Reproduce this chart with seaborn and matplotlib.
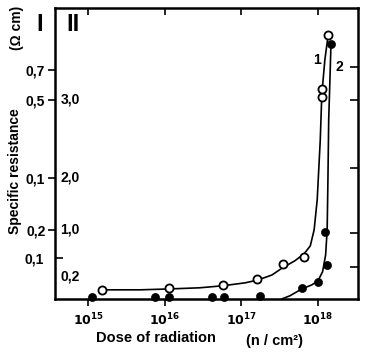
#!/usr/bin/env python3
"""Specific resistance vs. dose of radiation (two samples, two scales)."""

import matplotlib

matplotlib.use("Agg")
import matplotlib.pyplot as plt
import numpy as np
import pandas as pd
import seaborn as sns

# y values are in relative plot units (0 = bottom, 100 = top), the axis is not linear
# measured points, log10 of dose
open_logx = [15.18, 16.06, 16.76, 17.20, 17.54, 17.82, 18.05, 18.05, 18.13]
open_y = [3.1, 3.8, 4.8, 6.9, 12.0, 14.4, 69.4, 72.2, 90.7]
filled_logx = [15.05, 15.87, 16.06, 16.62, 16.77, 17.24, 17.79, 18.00, 18.12, 18.09, 18.17]
filled_y = [0.5, 0.7, 0.7, 0.7, 0.7, 1.0, 3.8, 5.8, 11.7, 23.0, 87.6]

# drawn curves
curve1_logx = [15.18, 15.68, 16.06, 16.46, 16.76, 17.05, 17.22, 17.40, 17.54, 17.70,
               17.82, 17.90, 17.95, 17.99, 18.03, 18.05, 18.09, 18.13]
curve1_y = [3.1, 3.1, 3.4, 3.8, 4.5, 5.5, 6.5, 8.2, 10.7, 13.1,
            15.5, 18.2, 23.7, 34.0, 54.6, 70.1, 82.1, 90.0]
curve2_logx = [17.53, 17.63, 17.79, 17.92, 18.00, 18.06, 18.10, 18.12, 18.13, 18.14, 18.16, 18.17]
curve2_y = [0.0, 1.0, 3.4, 4.8, 6.2, 9.3, 15.1, 23.7, 40.9, 61.5, 78.7, 88.0]

x_decades = [15, 16, 17, 18]
left_ticks = [78.7, 68.4, 41.6, 23.7]
left_labels = ["0,7", "0,5", "0,1", "0,2"]
left_minor = [14.1]
left_minor_labels = ["0,1"]
inner_pos = [68.4, 41.6, 23.7, 7.6]
inner_labels = ["3,0", "2,0", "1,0", "0,2"]
right_ticks = [79.7, 68.4, 45.0, 22.7, 11.0]

sns.set_style("white")
plt.rcParams["font.family"] = ["Liberation Sans", "DejaVu Sans"]
plt.rcParams["font.weight"] = "bold"
plt.rcParams["text.color"] = "black"
plt.rcParams["xtick.color"] = "black"
plt.rcParams["ytick.color"] = "black"

fig = plt.figure(figsize=(3.67, 3.52), dpi=100)
ax = fig.add_axes([0.150, 0.151, 0.825, 0.827])

c1 = pd.DataFrame({"dose": 10.0 ** np.array(curve1_logx), "rho": curve1_y})
c2 = pd.DataFrame({"dose": 10.0 ** np.array(curve2_logx), "rho": curve2_y})
sns.lineplot(data=c1, x="dose", y="rho", ax=ax, color="black", lw=1.2, sort=False)
sns.lineplot(data=c2, x="dose", y="rho", ax=ax, color="black", lw=1.2, sort=False)

p1 = pd.DataFrame({"dose": 10.0 ** np.array(open_logx), "rho": open_y})
p2 = pd.DataFrame({"dose": 10.0 ** np.array(filled_logx), "rho": filled_y})
sns.scatterplot(data=p1, x="dose", y="rho", ax=ax, s=34, facecolor="white",
                edgecolor="black", linewidth=1.3, zorder=5, clip_on=False)
sns.scatterplot(data=p2, x="dose", y="rho", ax=ax, s=34, color="black",
                edgecolor="black", zorder=5, clip_on=False)

ax.set_xscale("log")
ax.set_xlim(10 ** 14.57, 10 ** 18.52)
ax.set_ylim(0, 100)
ax.set_xlabel("")
ax.set_ylabel("")

for s in ax.spines.values():
    s.set_linewidth(1.8)
    s.set_color("black")

ax.set_xticks([10.0 ** d for d in x_decades],
              [r"$\mathbf{10^{%d}}$" % d for d in x_decades])
ax.xaxis.set_minor_locator(matplotlib.ticker.NullLocator())
ax.tick_params(axis="x", which="major", direction="out", length=5, width=1.2,
               labelsize=9, pad=4, bottom=True)

ax.set_yticks(left_ticks, left_labels)
ax.set_yticks(left_minor, left_minor_labels, minor=True)
ax.tick_params(axis="y", which="major", direction="out", length=5, width=1.2,
               labelsize=10, pad=2, left=True)
ax.tick_params(axis="y", which="minor", direction="in", length=6, width=1.2,
               labelsize=10, pad=8, left=True)
for lab in ax.get_yticklabels(minor=True) + ax.get_yticklabels() + ax.get_xticklabels():
    lab.set_fontweight("bold")

for pos, lab in zip(inner_pos, inner_labels):
    ax.text(0.018, pos, lab, transform=ax.get_yaxis_transform(), ha="left",
            va="center", fontsize=10, fontweight="bold")

top = ax.secondary_xaxis("top")
top.set_xticks([10.0 ** d for d in x_decades], [""] * len(x_decades))
top.xaxis.set_minor_locator(matplotlib.ticker.NullLocator())
top.tick_params(direction="in", length=5, width=1.2)
top.spines["top"].set_visible(False)

right = ax.secondary_yaxis("right")
right.set_yticks(right_ticks, [""] * len(right_ticks))
right.tick_params(direction="in", length=6, width=1.2)
right.spines["right"].set_visible(False)

fig.text(0.109, 0.929, "I", fontsize=17, fontweight="bold", ha="center", va="center")
fig.text(0.199, 0.929, "II", fontsize=17, fontweight="bold", ha="center", va="center")
fig.text(0.046, 0.922, "(\u03a9 cm)", fontsize=10, fontweight="bold", rotation=90,
         ha="center", va="center")
fig.text(0.041, 0.514, "Specific resistance", fontsize=10, fontweight="bold",
         rotation=90, ha="center", va="center")
fig.text(0.425, 0.040, "Dose of radiation", fontsize=10.5, fontweight="bold",
         ha="center", va="center")
fig.text(0.749, 0.030, "(n / cm\u00b2)", fontsize=10.5, fontweight="bold",
         ha="center", va="center")
fig.text(0.864, 0.830, "1", fontsize=10, fontweight="bold", ha="center", va="center")
fig.text(0.924, 0.810, "2", fontsize=10, fontweight="bold", ha="center", va="center")

fig.savefig("out.png", dpi=100)
